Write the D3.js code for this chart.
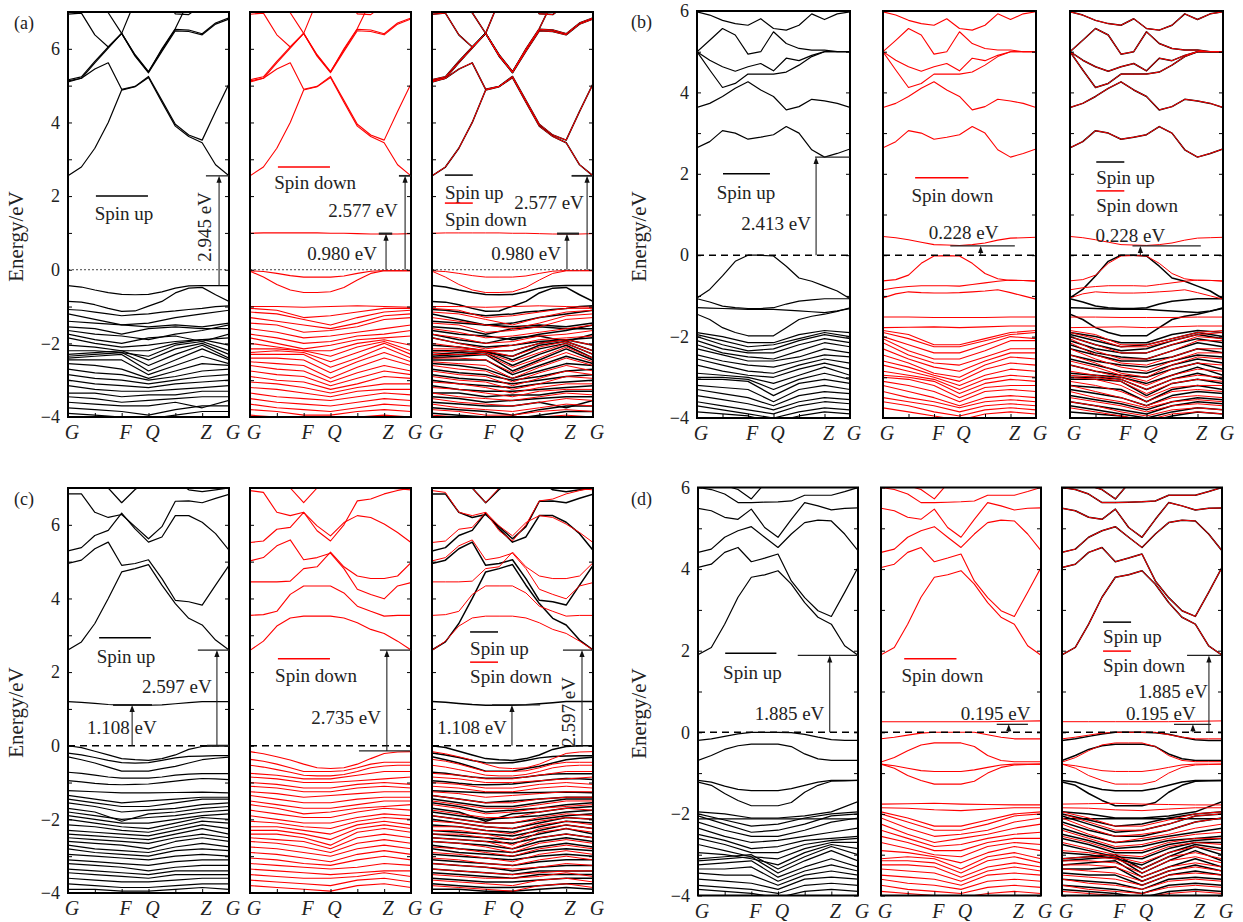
<!DOCTYPE html>
<html>
<head>
<meta charset="utf-8">
<script src="https://cdn.jsdelivr.net/npm/d3@7"></script>
<style>
  body { margin: 0; background: #fff; }
  text { font-family: "Liberation Serif", "DejaVu Serif", serif; fill: #222; }
</style>
</head>
<body>
<svg id="fig" width="1243" height="922"></svg>
<script>
// k path: 7 tick points, labels on some of them
const K_TICKS = [0, 1, 2, 3, 4, 5, 6];
const K_NAMES = ["G", "", "F", "Q", "", "Z", "G"];
const E_LABELS = [-4, -2, 0, 2, 4, 6];

// ---- panel (a) ----
const A_COND = [
  [2.55, 2.79, 3.3, 4.0, 4.88, 4.97, 5.22, 4.55, 3.9, 3.62, 3.45, 2.85, 2.55],
  [5.1, 5.2, 5.45, 5.62, 4.9, 4.98, 5.25, 4.6, 3.95, 3.66, 3.52, 4.3, 5.05],
  [5.13, 5.2, 5.62, 6.02, 6.42, 5.8, 5.35, 5.93, 6.49, 6.47, 6.38, 6.67, 6.81],
  [5.16, 5.24, 5.66, 6.05, 6.42, 5.84, 5.38, 5.97, 6.53, 6.51, 6.41, 6.7, 6.84],
  [6.94, 6.97, 6.38, 6.05, 6.42, 7.3, 7.6, 7.5, 6.95, 6.93, 7.2, 7.5, 7.5],
  [7.6, 7.5, 7.2, 6.98, 6.42, 5.82, 5.37, 6.0, 6.55, 7.3, 7.5, 7.6, 7.6]
];
const A_UP_NEAR = [
  [-0.43, -0.47, -0.55, -0.62, -0.67, -0.68, -0.67, -0.6, -0.5, -0.44, -0.43, -0.43, -0.43],
  [-0.86, -0.88, -0.95, -1.05, -1.13, -1.12, -0.99, -0.86, -0.63, -0.5, -0.48, -0.68, -0.86],
  [-1.08, -1.1, -1.15, -1.2, -1.25, -1.22, -1.2, -1.15, -1.12, -1.08, -1.05, -1.0, -0.98]
];
const A_UP_DEEP = [
  [-1.2, -1.35, -1.5, -1.45, -1.3, -1.2, -1.1],
  [-1.4, -1.45, -1.5, -1.55, -1.5, -1.55, -1.45],
  [-1.55, -1.6, -1.75, -1.6, -1.55, -1.6, -1.6],
  [-1.65, -1.75, -1.8, -1.9, -1.75, -1.65, -1.5],
  [-1.75, -1.9, -2.0, -1.85, -1.8, -1.95, -1.75],
  [-1.85, -2.0, -2.1, -2.05, -1.95, -1.9, -1.85],
  [-2.05, -2.1, -2.2, -2.2, -2.0, -1.9, -2.05],
  [-2.2, -2.2, -2.25, -2.35, -2.05, -1.95, -2.2],
  [-2.3, -2.25, -2.2, -2.45, -2.15, -2.0, -2.3],
  [-2.35, -2.3, -2.25, -2.6, -2.3, -2.05, -2.4],
  [-2.4, -2.35, -2.3, -2.75, -2.45, -2.15, -2.45],
  [-2.45, -2.45, -2.45, -2.85, -2.6, -2.35, -2.55],
  [-2.55, -2.6, -2.7, -2.95, -2.75, -2.55, -2.6],
  [-2.7, -2.8, -2.85, -3.0, -2.9, -2.75, -2.7],
  [-2.85, -2.95, -3.0, -3.1, -3.0, -2.9, -2.85],
  [-3.0, -3.1, -3.15, -3.2, -3.1, -3.05, -3.0],
  [-3.15, -3.25, -3.3, -3.3, -3.25, -3.2, -3.15],
  [-3.35, -3.35, -3.45, -3.4, -3.4, -3.3, -3.3],
  [-3.45, -3.5, -3.6, -3.55, -3.5, -3.45, -3.45],
  [-3.6, -3.65, -3.7, -3.7, -3.6, -3.75, -3.55],
  [-3.75, -3.8, -3.85, -3.95, -3.8, -3.7, -3.7],
  [-3.9, -3.95, -4.0, -4.05, -3.95, -3.85, -3.85]
];
const A_DN_NEAR = [
  [0.99, 1.0, 1.0, 1.0, 1.0, 1.0, 0.99, 0.99, 0.98, 0.97, 0.97, 0.97, 0.98],
  [-0.03, -0.05, -0.1, -0.16, -0.2, -0.2, -0.2, -0.17, -0.1, -0.04, -0.02, -0.02, -0.02],
  [-0.04, -0.2, -0.4, -0.55, -0.62, -0.62, -0.6, -0.48, -0.28, -0.1, -0.03, -0.03, -0.03]
];
const A_DN_DEEP = [
  [-1.0, -1.0, -1.02, -1.0, -0.98, -1.0, -1.02],
  [-1.05, -1.1, -1.3, -1.25, -1.15, -1.05, -1.05],
  [-1.15, -1.2, -1.35, -1.5, -1.3, -1.15, -1.1],
  [-1.3, -1.4, -1.5, -1.6, -1.45, -1.25, -1.2],
  [-1.45, -1.5, -1.7, -1.65, -1.55, -1.35, -1.3],
  [-1.6, -1.7, -1.85, -1.8, -1.7, -1.6, -1.5],
  [-1.75, -1.85, -2.0, -1.95, -1.8, -1.75, -1.65],
  [-1.85, -2.0, -2.15, -2.05, -1.9, -1.85, -1.8],
  [-2.0, -2.1, -2.2, -2.2, -2.0, -1.9, -2.05],
  [-2.15, -2.15, -2.2, -2.35, -2.1, -1.95, -2.2],
  [-2.25, -2.2, -2.25, -2.5, -2.25, -2.0, -2.3],
  [-2.3, -2.3, -2.3, -2.65, -2.4, -2.1, -2.4],
  [-2.4, -2.4, -2.45, -2.8, -2.5, -2.25, -2.5],
  [-2.5, -2.55, -2.6, -2.95, -2.65, -2.4, -2.6],
  [-2.6, -2.7, -2.75, -3.05, -2.8, -2.6, -2.75],
  [-2.75, -2.85, -2.9, -3.15, -2.95, -2.75, -2.85],
  [-2.9, -3.0, -3.05, -3.25, -3.1, -2.9, -2.95],
  [-3.05, -3.1, -3.2, -3.35, -3.2, -3.1, -3.1],
  [-3.2, -3.25, -3.35, -3.45, -3.3, -3.25, -3.25],
  [-3.35, -3.45, -3.5, -3.55, -3.45, -3.35, -3.4],
  [-3.5, -3.6, -3.65, -3.7, -3.6, -3.5, -3.55],
  [-3.65, -3.75, -3.8, -3.85, -3.75, -3.65, -3.7],
  [-3.8, -3.85, -3.95, -3.95, -3.85, -3.8, -3.85],
  [-3.95, -4.0, -4.05, -4.1, -4.0, -3.95, -4.0]
];

// ---- panel (b) ----
const B_COND = [
  [2.64, 2.79, 3.06, 3.0, 2.85, 2.9, 2.96, 3.16, 3.0, 2.59, 2.41, 2.5, 2.61],
  [3.63, 3.73, 3.9, 4.1, 4.26, 4.06, 3.9, 3.57, 3.65, 3.83, 3.79, 3.73, 3.63],
  [5.0, 4.55, 4.12, 4.22, 4.45, 4.45, 4.45, 4.5, 4.67, 4.88, 5.0, 5.0, 5.0],
  [5.0, 4.79, 4.63, 4.52, 4.63, 4.71, 4.53, 4.84, 4.78, 4.91, 5.0, 5.0, 5.0],
  [5.0, 5.28, 5.57, 5.41, 4.94, 5.0, 5.49, 5.2, 5.08, 5.04, 5.04, 5.0, 5.0],
  [5.98, 5.9, 5.77, 5.69, 5.65, 5.81, 5.57, 5.53, 5.65, 5.93, 5.79, 5.93, 5.98]
];
const B_UP_NEAR = [
  [-1.05, -0.84, -0.51, -0.15, 0.0, 0.0, -0.02, -0.27, -0.56, -0.64, -0.76, -0.88, -1.07],
  [-1.07, -1.15, -1.25, -1.29, -1.31, -1.31, -1.29, -1.2, -1.13, -1.1, -1.07, -1.07, -1.07],
  [-1.29, -1.3, -1.31, -1.32, -1.33, -1.33, -1.33, -1.35, -1.37, -1.39, -1.41, -1.37, -1.31],
  [-1.45, -1.58, -1.78, -1.9, -1.98, -1.98, -1.98, -1.78, -1.58, -1.5, -1.45, -1.38, -1.29]
];
const B_UP_DEEP = [
  [-1.9, -2.0, -2.15, -2.15, -1.95, -1.85, -1.9],
  [-1.95, -2.1, -2.25, -2.2, -2.05, -1.9, -2.0],
  [-2.0, -2.2, -2.35, -2.3, -2.1, -1.95, -2.05],
  [-2.1, -2.3, -2.4, -2.4, -2.2, -2.05, -2.15],
  [-2.2, -2.4, -2.5, -2.55, -2.35, -2.15, -2.25],
  [-2.3, -2.45, -2.6, -2.6, -2.5, -2.3, -2.4],
  [-2.45, -2.6, -2.7, -2.75, -2.6, -2.45, -2.5],
  [-2.55, -2.7, -2.85, -2.9, -2.7, -2.55, -2.65],
  [-2.7, -2.85, -2.95, -3.0, -2.8, -2.65, -2.8],
  [-2.9, -2.95, -3.0, -3.15, -2.95, -2.75, -2.95],
  [-3.0, -3.0, -3.05, -3.3, -3.05, -2.9, -3.05],
  [-3.05, -3.05, -3.1, -3.45, -3.15, -3.05, -3.15],
  [-3.2, -3.25, -3.3, -3.6, -3.3, -3.2, -3.3],
  [-3.3, -3.4, -3.5, -3.7, -3.45, -3.35, -3.4],
  [-3.45, -3.55, -3.65, -3.8, -3.6, -3.5, -3.55],
  [-3.6, -3.7, -3.8, -3.9, -3.7, -3.6, -3.65],
  [-3.7, -3.8, -3.9, -4.0, -3.85, -3.75, -3.8],
  [-3.85, -3.9, -3.95, -4.1, -3.95, -3.85, -3.9]
];
const B_DN_NEAR = [
  [0.46, 0.43, 0.38, 0.32, 0.26, 0.25, 0.24, 0.26, 0.3, 0.37, 0.42, 0.43, 0.44],
  [-0.63, -0.6, -0.49, -0.2, -0.02, -0.01, -0.02, -0.2, -0.45, -0.58, -0.62, -0.62, -0.63],
  [-0.85, -0.8, -0.77, -0.75, -0.75, -0.75, -0.76, -0.72, -0.68, -0.64, -0.61, -0.62, -0.64],
  [-1.05, -0.95, -0.9, -0.92, -0.93, -0.93, -0.92, -0.9, -0.88, -0.85, -0.92, -1.0, -1.08]
];
const B_DN_DEEP = [
  [-1.52, -1.52, -1.53, -1.53, -1.53, -1.52, -1.52],
  [-1.78, -1.77, -1.76, -1.78, -1.76, -1.74, -1.74],
  [-1.85, -1.95, -2.2, -2.2, -2.05, -1.9, -1.85],
  [-1.9, -2.05, -2.25, -2.25, -2.1, -1.95, -1.9],
  [-2.0, -2.2, -2.4, -2.4, -2.2, -2.0, -2.05],
  [-2.05, -2.35, -2.55, -2.55, -2.35, -2.1, -2.1],
  [-2.15, -2.45, -2.65, -2.7, -2.5, -2.3, -2.3],
  [-2.3, -2.55, -2.75, -2.85, -2.6, -2.4, -2.4],
  [-2.45, -2.65, -2.9, -3.0, -2.7, -2.5, -2.55],
  [-2.6, -2.75, -2.95, -3.1, -2.8, -2.65, -2.7],
  [-2.7, -2.85, -3.0, -3.2, -2.95, -2.8, -2.85],
  [-2.85, -2.95, -3.05, -3.3, -3.05, -2.95, -3.0],
  [-2.95, -3.0, -3.1, -3.4, -3.15, -3.05, -3.1],
  [-3.0, -3.05, -3.2, -3.5, -3.25, -3.2, -3.2],
  [-3.1, -3.2, -3.35, -3.6, -3.35, -3.3, -3.35],
  [-3.2, -3.35, -3.5, -3.7, -3.5, -3.45, -3.5],
  [-3.35, -3.5, -3.6, -3.75, -3.6, -3.55, -3.6],
  [-3.5, -3.6, -3.7, -3.85, -3.7, -3.65, -3.7],
  [-3.6, -3.7, -3.85, -3.95, -3.8, -3.75, -3.8],
  [-3.75, -3.85, -3.95, -4.05, -3.9, -3.85, -3.9]
];

// ---- panel (c) ----
const C_UP_COND = [
  [2.6, 2.82, 3.32, 4.0, 4.72, 4.81, 4.92, 4.36, 3.86, 3.46, 3.28, 2.87, 2.6],
  [4.95, 5.04, 5.35, 5.53, 4.9, 4.95, 5.05, 4.54, 3.95, 3.91, 3.82, 4.36, 4.9],
  [5.29, 5.38, 5.71, 5.85, 6.32, 5.89, 5.53, 5.67, 6.25, 6.25, 6.07, 5.76, 5.31],
  [6.84, 6.84, 6.34, 6.2, 6.28, 5.95, 5.62, 5.95, 6.64, 6.65, 6.6, 6.72, 6.83],
  [7.3, 7.2, 7.1, 7.0, 6.6, 6.96, 7.2, 7.3, 7.2, 6.95, 6.9, 6.95, 7.0]
];
const C_UP_NEAR = [
  [1.2, 1.18, 1.15, 1.12, 1.1, 1.1, 1.1, 1.11, 1.14, 1.17, 1.2, 1.2, 1.2],
  [0.0, -0.05, -0.15, -0.25, -0.35, -0.38, -0.4, -0.35, -0.25, -0.1, -0.02, 0.0, 0.0],
  [-0.2, -0.25, -0.32, -0.4, -0.46, -0.47, -0.46, -0.4, -0.33, -0.29, -0.28, -0.27, -0.27],
  [-0.3, -0.38, -0.47, -0.58, -0.69, -0.69, -0.69, -0.62, -0.56, -0.47, -0.38, -0.34, -0.31],
  [-0.72, -0.75, -0.8, -0.85, -0.88, -0.88, -0.88, -0.85, -0.8, -0.77, -0.76, -0.76, -0.76],
  [-0.95, -0.98, -1.02, -1.05, -1.06, -1.05, -1.04, -1.0, -0.96, -0.92, -0.89, -0.9, -0.92]
];
const C_UP_DEEP = [
  [-1.22, -1.25, -1.28, -1.28, -1.27, -1.26, -1.28],
  [-1.35, -1.45, -1.55, -1.5, -1.45, -1.4, -1.4],
  [-1.45, -1.55, -1.65, -1.65, -1.55, -1.45, -1.45],
  [-1.55, -1.65, -1.8, -1.75, -1.7, -1.6, -1.55],
  [-1.7, -1.8, -2.05, -1.85, -1.8, -1.7, -1.65],
  [-1.8, -1.9, -2.0, -1.95, -1.9, -1.8, -1.75],
  [-1.9, -2.0, -2.1, -2.1, -2.0, -1.9, -1.85],
  [-2.0, -2.1, -2.2, -2.25, -2.1, -1.95, -2.0],
  [-2.15, -2.2, -2.3, -2.35, -2.2, -2.05, -2.1],
  [-2.3, -2.35, -2.4, -2.45, -2.3, -2.15, -2.25],
  [-2.4, -2.45, -2.5, -2.55, -2.4, -2.25, -2.4],
  [-2.5, -2.55, -2.6, -2.65, -2.5, -2.4, -2.5],
  [-2.6, -2.65, -2.7, -2.8, -2.6, -2.5, -2.6],
  [-2.7, -2.8, -2.85, -2.9, -2.75, -2.65, -2.75],
  [-2.8, -2.9, -2.95, -3.0, -2.85, -2.8, -2.85],
  [-2.95, -3.0, -3.05, -3.1, -3.0, -2.95, -3.0],
  [-3.1, -3.15, -3.2, -3.25, -3.15, -3.1, -3.1],
  [-3.2, -3.25, -3.3, -3.4, -3.3, -3.25, -3.25],
  [-3.35, -3.4, -3.45, -3.5, -3.4, -3.4, -3.4],
  [-3.45, -3.5, -3.55, -3.6, -3.5, -3.5, -3.5],
  [-3.6, -3.65, -3.7, -3.7, -3.65, -3.6, -3.6],
  [-3.75, -3.8, -3.85, -3.85, -3.8, -3.75, -3.75],
  [-3.9, -3.9, -3.95, -3.95, -3.9, -3.85, -3.9]
];
const C_DN_COND = [
  [2.59, 2.84, 3.25, 3.47, 3.52, 3.52, 3.52, 3.47, 3.34, 3.16, 3.05, 2.84, 2.6],
  [3.54, 3.56, 3.65, 4.11, 4.34, 4.34, 4.34, 4.15, 3.79, 3.65, 3.52, 3.54, 3.54],
  [4.45, 4.45, 4.45, 4.47, 4.81, 4.86, 5.26, 4.86, 4.61, 4.54, 4.54, 4.61, 4.97],
  [5.02, 5.11, 5.43, 5.59, 5.05, 5.11, 5.23, 4.81, 4.25, 4.11, 3.99, 4.34, 4.43],
  [5.52, 5.56, 5.88, 5.93, 6.34, 5.97, 5.7, 6.06, 6.25, 6.2, 6.02, 5.79, 5.52],
  [6.93, 6.88, 6.34, 6.25, 6.34, 5.84, 5.56, 6.0, 6.65, 6.7, 6.84, 6.93, 7.0],
  [7.3, 7.2, 7.1, 7.0, 6.6, 7.0, 7.3, 7.3, 7.2, 7.1, 7.0, 6.98, 6.95]
];
const C_DN_NEAR = [
  [-0.16, -0.22, -0.3, -0.39, -0.5, -0.6, -0.62, -0.6, -0.5, -0.35, -0.21, -0.17, -0.16],
  [-0.37, -0.42, -0.5, -0.6, -0.7, -0.7, -0.7, -0.68, -0.6, -0.5, -0.45, -0.45, -0.45],
  [-0.53, -0.58, -0.65, -0.72, -0.8, -0.82, -0.82, -0.78, -0.7, -0.6, -0.55, -0.53, -0.53]
];
const C_DN_DEEP = [
  [-0.75, -0.8, -0.9, -0.9, -0.8, -0.7, -0.7],
  [-0.85, -0.9, -1.0, -1.0, -0.95, -0.9, -0.85],
  [-1.0, -1.05, -1.15, -1.15, -1.05, -1.0, -1.05],
  [-1.1, -1.15, -1.25, -1.25, -1.15, -1.1, -1.15],
  [-1.25, -1.3, -1.4, -1.35, -1.3, -1.25, -1.25],
  [-1.35, -1.45, -1.55, -1.55, -1.45, -1.4, -1.4],
  [-1.5, -1.6, -1.7, -1.7, -1.6, -1.5, -1.5],
  [-1.6, -1.7, -1.85, -1.8, -1.7, -1.65, -1.6],
  [-1.75, -1.85, -1.95, -1.95, -1.8, -1.7, -1.75],
  [-1.9, -2.0, -2.1, -2.1, -1.95, -1.85, -1.9],
  [-2.05, -2.1, -2.2, -2.25, -2.05, -1.95, -2.0],
  [-2.2, -2.2, -2.3, -2.4, -2.15, -2.05, -2.15],
  [-2.3, -2.3, -2.4, -2.55, -2.25, -2.15, -2.25],
  [-2.4, -2.4, -2.5, -2.7, -2.35, -2.25, -2.35],
  [-2.5, -2.55, -2.6, -2.8, -2.5, -2.4, -2.5],
  [-2.6, -2.65, -2.75, -2.9, -2.65, -2.55, -2.65],
  [-2.75, -2.8, -2.9, -3.0, -2.8, -2.7, -2.8],
  [-2.9, -2.95, -3.05, -3.15, -2.95, -2.85, -2.95],
  [-3.05, -3.1, -3.2, -3.25, -3.1, -3.0, -3.1],
  [-3.2, -3.25, -3.3, -3.35, -3.3, -3.2, -3.25],
  [-3.35, -3.4, -3.45, -3.5, -3.45, -3.4, -3.4],
  [-3.5, -3.55, -3.6, -3.6, -3.55, -3.45, -3.55],
  [-3.65, -3.7, -3.75, -3.8, -3.65, -3.6, -3.7],
  [-3.8, -3.85, -3.9, -3.95, -3.8, -3.75, -3.85]
];

// ---- panel (d) ----
const D_COND = [
  [1.9, 2.08, 2.65, 3.31, 3.8, 3.86, 3.96, 3.63, 3.18, 2.82, 2.65, 2.12, 1.89],
  [4.04, 4.12, 4.41, 4.53, 4.18, 4.27, 4.37, 3.71, 3.3, 2.98, 2.84, 3.43, 4.04],
  [4.41, 4.49, 4.78, 4.94, 5.04, 4.78, 4.53, 4.86, 5.14, 5.2, 5.18, 4.86, 4.45],
  [5.49, 5.43, 5.27, 5.22, 5.47, 5.02, 4.78, 5.22, 5.63, 5.55, 5.45, 5.49, 5.5],
  [6.0, 5.95, 5.84, 5.63, 5.63, 5.64, 5.65, 5.67, 5.81, 5.81, 5.81, 5.9, 6.0],
  [6.3, 6.2, 6.05, 5.95, 5.72, 6.1, 6.3, 6.4, 6.4, 6.3, 6.2, 6.15, 6.1]
];
const D_UP_NEAR = [
  [-0.2, -0.16, -0.1, -0.04, 0.0, 0.0, 0.0, -0.01, -0.05, -0.12, -0.18, -0.2, -0.2],
  [-0.69, -0.57, -0.42, -0.33, -0.29, -0.29, -0.29, -0.35, -0.53, -0.65, -0.69, -0.69, -0.69],
  [-1.18, -1.22, -1.32, -1.4, -1.43, -1.43, -1.43, -1.38, -1.3, -1.22, -1.18, -1.18, -1.18],
  [-1.22, -1.3, -1.5, -1.67, -1.8, -1.8, -1.8, -1.72, -1.47, -1.3, -1.2, -1.19, -1.18]
];
const D_UP_DEEP = [
  [-1.95, -2.0, -2.1, -2.1, -2.05, -1.95, -1.7],
  [-2.12, -2.12, -2.12, -2.12, -2.12, -2.12, -2.12],
  [-2.0, -2.15, -2.3, -2.25, -2.1, -2.0, -1.95],
  [-2.05, -2.25, -2.45, -2.4, -2.25, -2.05, -2.0],
  [-2.2, -2.4, -2.55, -2.55, -2.4, -2.2, -2.1],
  [-2.35, -2.55, -2.7, -2.65, -2.55, -2.45, -2.35],
  [-2.5, -2.65, -2.85, -2.8, -2.65, -2.6, -2.55],
  [-2.6, -2.75, -2.95, -2.95, -2.75, -2.65, -2.6],
  [-2.75, -2.9, -3.05, -3.1, -2.85, -2.7, -2.7],
  [-2.95, -3.0, -3.1, -3.25, -2.95, -2.75, -2.85],
  [-3.1, -3.05, -3.0, -3.35, -3.05, -2.8, -3.0],
  [-3.15, -3.1, -3.05, -3.45, -3.15, -2.9, -3.15],
  [-3.25, -3.2, -3.15, -3.55, -3.3, -3.1, -3.3],
  [-3.35, -3.35, -3.3, -3.65, -3.4, -3.25, -3.4],
  [-3.45, -3.5, -3.5, -3.75, -3.5, -3.4, -3.5],
  [-3.6, -3.65, -3.7, -3.85, -3.6, -3.55, -3.6],
  [-3.75, -3.8, -3.85, -3.95, -3.75, -3.7, -3.75],
  [-3.85, -3.9, -3.95, -4.05, -3.9, -3.85, -3.9]
];
const D_DN_NEAR = [
  [0.26, 0.26, 0.26, 0.26, 0.26, 0.27, 0.28],
  [-0.16, -0.12, -0.07, -0.02, 0.0, 0.0, 0.0, 0.0, -0.06, -0.12, -0.16, -0.16, -0.16],
  [-0.73, -0.62, -0.45, -0.31, -0.26, -0.26, -0.26, -0.35, -0.57, -0.69, -0.72, -0.72, -0.72],
  [-0.78, -0.82, -0.88, -0.94, -0.96, -0.96, -0.96, -0.92, -0.86, -0.8, -0.78, -0.78, -0.78],
  [-0.78, -0.88, -1.06, -1.18, -1.27, -1.27, -1.27, -1.2, -1.0, -0.86, -0.8, -0.79, -0.78]
];
const D_DN_DEEP = [
  [-1.76, -1.75, -1.74, -1.76, -1.77, -1.78, -1.78],
  [-1.85, -1.86, -1.9, -1.92, -1.88, -1.85, -1.85],
  [-1.95, -2.1, -2.3, -2.3, -2.15, -2.0, -1.95],
  [-2.0, -2.2, -2.4, -2.4, -2.25, -2.05, -2.0],
  [-2.1, -2.35, -2.55, -2.5, -2.4, -2.2, -2.1],
  [-2.25, -2.5, -2.7, -2.6, -2.5, -2.35, -2.25],
  [-2.4, -2.6, -2.8, -2.75, -2.6, -2.5, -2.45],
  [-2.55, -2.7, -2.9, -2.9, -2.7, -2.6, -2.6],
  [-2.7, -2.85, -3.0, -3.05, -2.8, -2.7, -2.75],
  [-2.9, -2.95, -3.05, -3.2, -2.95, -2.8, -2.9],
  [-3.1, -3.05, -3.1, -3.35, -3.05, -2.95, -3.1],
  [-3.15, -3.15, -3.2, -3.45, -3.15, -3.05, -3.2],
  [-3.25, -3.25, -3.3, -3.55, -3.3, -3.2, -3.3],
  [-3.35, -3.4, -3.45, -3.65, -3.4, -3.3, -3.4],
  [-3.5, -3.55, -3.6, -3.75, -3.5, -3.45, -3.5],
  [-3.6, -3.7, -3.75, -3.85, -3.65, -3.6, -3.65],
  [-3.75, -3.85, -3.9, -3.95, -3.8, -3.75, -3.8],
  [-3.9, -3.95, -4.0, -4.05, -3.95, -3.9, -3.95]
];

const RED = "#ff0000";
const svg = d3.select("#fig");

const PANELS = [
  { key: "a", label: "(a)", left: [68, 250, 432], width: 161, top: 12, bottom: 417, emax: 7, lx: 14, tx: 23,
    up: [A_COND, A_UP_NEAR, A_UP_DEEP], dn: [A_COND, A_DN_NEAR, A_DN_DEEP], dotted: true },
  { key: "b", label: "(b)", left: [697, 883, 1070], width: 153, top: 11, bottom: 418, emax: 6, lx: 631, tx: 646,
    up: [B_COND, B_UP_NEAR, B_UP_DEEP], dn: [B_COND, B_DN_NEAR, B_DN_DEEP], dotted: false },
  { key: "c", label: "(c)", left: [68, 250, 432], width: 161, top: 488, bottom: 893, emax: 7, lx: 14, tx: 23,
    up: [C_UP_COND, C_UP_NEAR, C_UP_DEEP], dn: [C_DN_COND, C_DN_NEAR, C_DN_DEEP], dotted: false },
  { key: "d", label: "(d)", left: [698, 881, 1062], width: 160, top: 487.5, bottom: 895.5, emax: 6, lx: 631, tx: 646,
    up: [D_COND, D_UP_NEAR, D_UP_DEEP], dn: [D_COND, D_DN_NEAR, D_DN_DEEP], dotted: false }
];

function fmtE(v) { return v < 0 ? "\u2212" + (-v) : String(v); }

function drawSub(p, j) {
  const x0 = p.left[j], x1 = x0 + p.width;
  const x = d3.scaleLinear().domain([0, 6]).range([x0, x1]);
  const y = d3.scaleLinear().domain([-4, p.emax]).range([p.bottom, p.top]);
  const g = svg.append("g");
  const clipId = "clip-" + p.key + j;
  g.append("clipPath").attr("id", clipId).append("rect")
    .attr("x", x0).attr("y", p.top).attr("width", p.width).attr("height", p.bottom - p.top);
  const plot = g.append("g").attr("clip-path", "url(#" + clipId + ")");

  const line = d3.line()
    .x((d, i, arr) => x(i * 6 / (arr.length - 1)))
    .y(d => y(d));

  function bands(sets, color, w) {
    sets.forEach(set => {
      plot.append("g").selectAll("path").data(set).join("path")
        .attr("d", line).attr("fill", "none")
        .attr("stroke", color).attr("stroke-width", w)
        .attr("stroke-linejoin", "round");
    });
  }
  if (j === 0) bands(p.up, "#000", 1.2);
  if (j === 1) bands(p.dn, RED, 1.1);
  if (j === 2) { bands(p.up, "#000", 1.5); bands(p.dn, RED, 1.0); }

  // Fermi level
  g.append("line").attr("x1", x0).attr("x2", x1).attr("y1", y(0)).attr("y2", y(0))
    .attr("stroke", p.dotted ? "#444" : "#000")
    .attr("stroke-width", p.dotted ? 1 : 1.4)
    .attr("stroke-dasharray", p.dotted ? "2,2" : "7,5");

  // inward ticks
  const eTicks = d3.range(-4, p.emax + 1);
  g.append("g").attr("transform", "translate(" + x0 + ",0)")
    .call(d3.axisLeft(y).tickValues(eTicks).tickSize(-4).tickFormat(""))
    .call(s => s.select(".domain").remove());
  g.append("g").attr("transform", "translate(" + x1 + ",0)")
    .call(d3.axisRight(y).tickValues(eTicks).tickSize(-4).tickFormat(""))
    .call(s => s.select(".domain").remove());
  g.append("g").attr("transform", "translate(0," + p.bottom + ")")
    .call(d3.axisBottom(x).tickValues(K_TICKS).tickSize(-4).tickFormat(""))
    .call(s => s.select(".domain").remove());
  g.selectAll(".tick line").attr("stroke", "#000").attr("stroke-width", 1);

  // frame
  g.append("rect").attr("x", x0).attr("y", p.top).attr("width", p.width).attr("height", p.bottom - p.top)
    .attr("fill", "none").attr("stroke", "#000").attr("stroke-width", 2);

  // k labels
  g.selectAll("text.k").data(K_TICKS.filter(k => K_NAMES[k] !== "")).join("text")
    .attr("class", "k")
    .attr("x", k => x(k) + 4).attr("y", p.bottom + 22)
    .attr("text-anchor", "middle").attr("font-style", "italic").attr("font-size", 20)
    .text(k => K_NAMES[k]);

  if (j === 0) {
    const ax = g.append("g").attr("transform", "translate(" + x0 + ",0)")
      .call(d3.axisLeft(y).tickValues(E_LABELS).tickSize(0).tickPadding(8).tickFormat(fmtE));
    ax.select(".domain").remove();
    ax.selectAll("text").attr("font-size", 18).attr("font-family", "Liberation Serif, serif").attr("fill", "#222");
  }
  return { g, x, y };
}

// annotation helpers (positions in k / energy units)
function hl(s, k0, k1, e, color, w) {
  s.g.append("line").attr("x1", s.x(k0)).attr("x2", s.x(k1)).attr("y1", s.y(e)).attr("y2", s.y(e))
    .attr("stroke", color || "#222").attr("stroke-width", w || 1.3);
}
function arrow(s, k, e0, e1) {
  const xx = s.x(k), ya = s.y(e0), yb = s.y(e1);
  const h = Math.min(7, Math.abs(ya - yb));
  s.g.append("line").attr("x1", xx).attr("x2", xx).attr("y1", ya).attr("y2", yb + h - 1)
    .attr("stroke", "#222").attr("stroke-width", 1.1);
  s.g.append("path").attr("d", "M" + xx + "," + yb + "L" + (xx - 2.6) + "," + (yb + h) + "L" + (xx + 2.6) + "," + (yb + h) + "Z")
    .attr("fill", "#111");
}
function txt(s, k, e, str, anchor, rot) {
  const t = s.g.append("text").attr("font-size", 19).attr("text-anchor", anchor || "middle").attr("dy", "0.35em").text(str);
  if (rot) t.attr("transform", "translate(" + s.x(k) + "," + s.y(e) + ") rotate(-90)");
  else t.attr("x", s.x(k)).attr("y", s.y(e));
}

const subs = {};
PANELS.forEach(p => {
  subs[p.key] = [0, 1, 2].map(j => drawSub(p, j));
  svg.append("text").attr("x", p.lx).attr("y", p.top + 17).attr("font-size", 18).text(p.label);
  const mid = (p.top + p.bottom) / 2 + 22;
  svg.append("text").attr("transform", "translate(" + p.tx + "," + mid + ") rotate(-90)")
    .attr("text-anchor", "middle").attr("font-size", 21).text("Energy/eV");
});

// (a)
let s = subs.a;
hl(s[0], 1.04, 2.98, 2.0, "#000", 1.5); txt(s[0], 2.09, 1.54, "Spin up");
hl(s[0], 5.14, 6, 2.55); arrow(s[0], 5.63, -0.43, 2.55); txt(s[0], 5.07, 1.16, "2.945 eV", "middle", true);
hl(s[1], 1.04, 2.98, 2.79, RED, 1.5); txt(s[1], 2.43, 2.36, "Spin down");
hl(s[1], 5.55, 6, 2.55, "#222", 1.8); arrow(s[1], 5.78, 0, 2.55); txt(s[1], 5.51, 1.62, "2.577 eV", "end");
hl(s[1], 4.8, 5.3, 0.98, "#222", 2.2); arrow(s[1], 5.07, 0, 0.98); txt(s[1], 4.73, 0.45, "0.980 eV", "end");
hl(s[2], 0.48, 1.52, 2.57, "#000", 1.5); txt(s[2], 0.48, 2.11, "Spin up", "start");
hl(s[2], 0.48, 1.52, 1.81, RED, 1.5); txt(s[2], 0.48, 1.38, "Spin down", "start");
hl(s[2], 5.2, 6, 2.55, "#222", 1.8); arrow(s[2], 5.78, 0, 2.55); txt(s[2], 4.36, 1.84, "2.577 eV");
hl(s[2], 4.66, 5.48, 0.98, "#222", 2.2); arrow(s[2], 5.03, 0, 0.98); txt(s[2], 3.51, 0.45, "0.980 eV");

// (b)
s = subs.b;
hl(s[0], 1.02, 2.86, 2.0, "#000", 1.5); txt(s[0], 1.92, 1.55, "Spin up");
hl(s[0], 4.63, 6, 2.41); arrow(s[0], 4.67, 0, 2.41); txt(s[0], 3.1, 0.79, "2.413 eV");
hl(s[1], 1.26, 3.35, 1.9, RED, 1.5); txt(s[1], 2.72, 1.48, "Spin down");
hl(s[1], 2.64, 5.17, 0.228); arrow(s[1], 3.83, 0, 0.228); txt(s[1], 3.16, 0.55, "0.228 eV");
hl(s[2], 1.03, 2.13, 2.29, "#000", 1.5); txt(s[2], 1.03, 1.92, "Spin up", "start");
hl(s[2], 1.03, 2.13, 1.58, RED, 1.5); txt(s[2], 1.03, 1.23, "Spin down", "start");
hl(s[2], 2.45, 5.13, 0.228); arrow(s[2], 2.76, 0, 0.228); txt(s[2], 2.37, 0.5, "0.228 eV");

// (c)
s = subs.c;
hl(s[0], 1.16, 3.09, 2.93, "#000", 1.5); txt(s[0], 2.16, 2.44, "Spin up");
hl(s[0], 4.84, 6, 2.597); hl(s[0], 5.18, 6, 0, "#222", 2);
arrow(s[0], 5.55, 0, 2.597); txt(s[0], 4.06, 1.6, "2.597 eV");
hl(s[0], 1.68, 3.13, 1.108, "#222", 2); arrow(s[0], 2.39, 0, 1.108); txt(s[0], 2.01, 0.51, "1.108 eV");
hl(s[1], 1.04, 2.98, 2.36, RED, 1.5); txt(s[1], 2.46, 1.9, "Spin down");
hl(s[1], 4.84, 6, 2.597); hl(s[1], 4.06, 6, -0.14);
arrow(s[1], 5.1, -0.14, 2.597); txt(s[1], 3.58, 0.78, "2.735 eV");
hl(s[2], 1.42, 2.46, 3.09, "#000", 1.5); txt(s[2], 1.42, 2.65, "Spin up", "start");
hl(s[2], 1.42, 2.46, 2.27, RED, 1.5); txt(s[2], 1.42, 1.89, "Spin down", "start");
hl(s[2], 2.24, 4.03, 1.108); arrow(s[2], 2.98, 0, 1.108); txt(s[2], 1.49, 0.51, "1.108 eV");
hl(s[2], 4.88, 6, 2.597); arrow(s[2], 5.59, 0, 2.597); txt(s[2], 5.07, 0.92, "2.597 eV", "middle", true);

// (d)
s = subs.d;
hl(s[0], 1.02, 2.94, 1.94, "#000", 1.5); txt(s[0], 2.04, 1.48, "Spin up");
hl(s[0], 3.74, 6, 1.885); arrow(s[0], 4.94, 0, 1.885); txt(s[0], 3.43, 0.47, "1.885 eV");
hl(s[1], 0.87, 2.83, 1.8, RED, 1.5); txt(s[1], 2.3, 1.4, "Spin down");
hl(s[1], 4.34, 5.51, 0.195); arrow(s[1], 4.79, 0, 0.195); txt(s[1], 4.3, 0.47, "0.195 eV");
hl(s[2], 1.54, 2.59, 2.7, "#000", 1.5); txt(s[2], 1.54, 2.34, "Spin up", "start");
hl(s[2], 1.54, 2.59, 1.99, RED, 1.5); txt(s[2], 1.54, 1.65, "Spin down", "start");
hl(s[2], 4.69, 5.96, 1.885); arrow(s[2], 5.51, 0, 1.885); txt(s[2], 4.16, 1.01, "1.885 eV");
hl(s[2], 4.2, 5.59, 0.195); arrow(s[2], 4.91, 0, 0.195); txt(s[2], 3.71, 0.47, "0.195 eV");
</script>
</body>
</html>
